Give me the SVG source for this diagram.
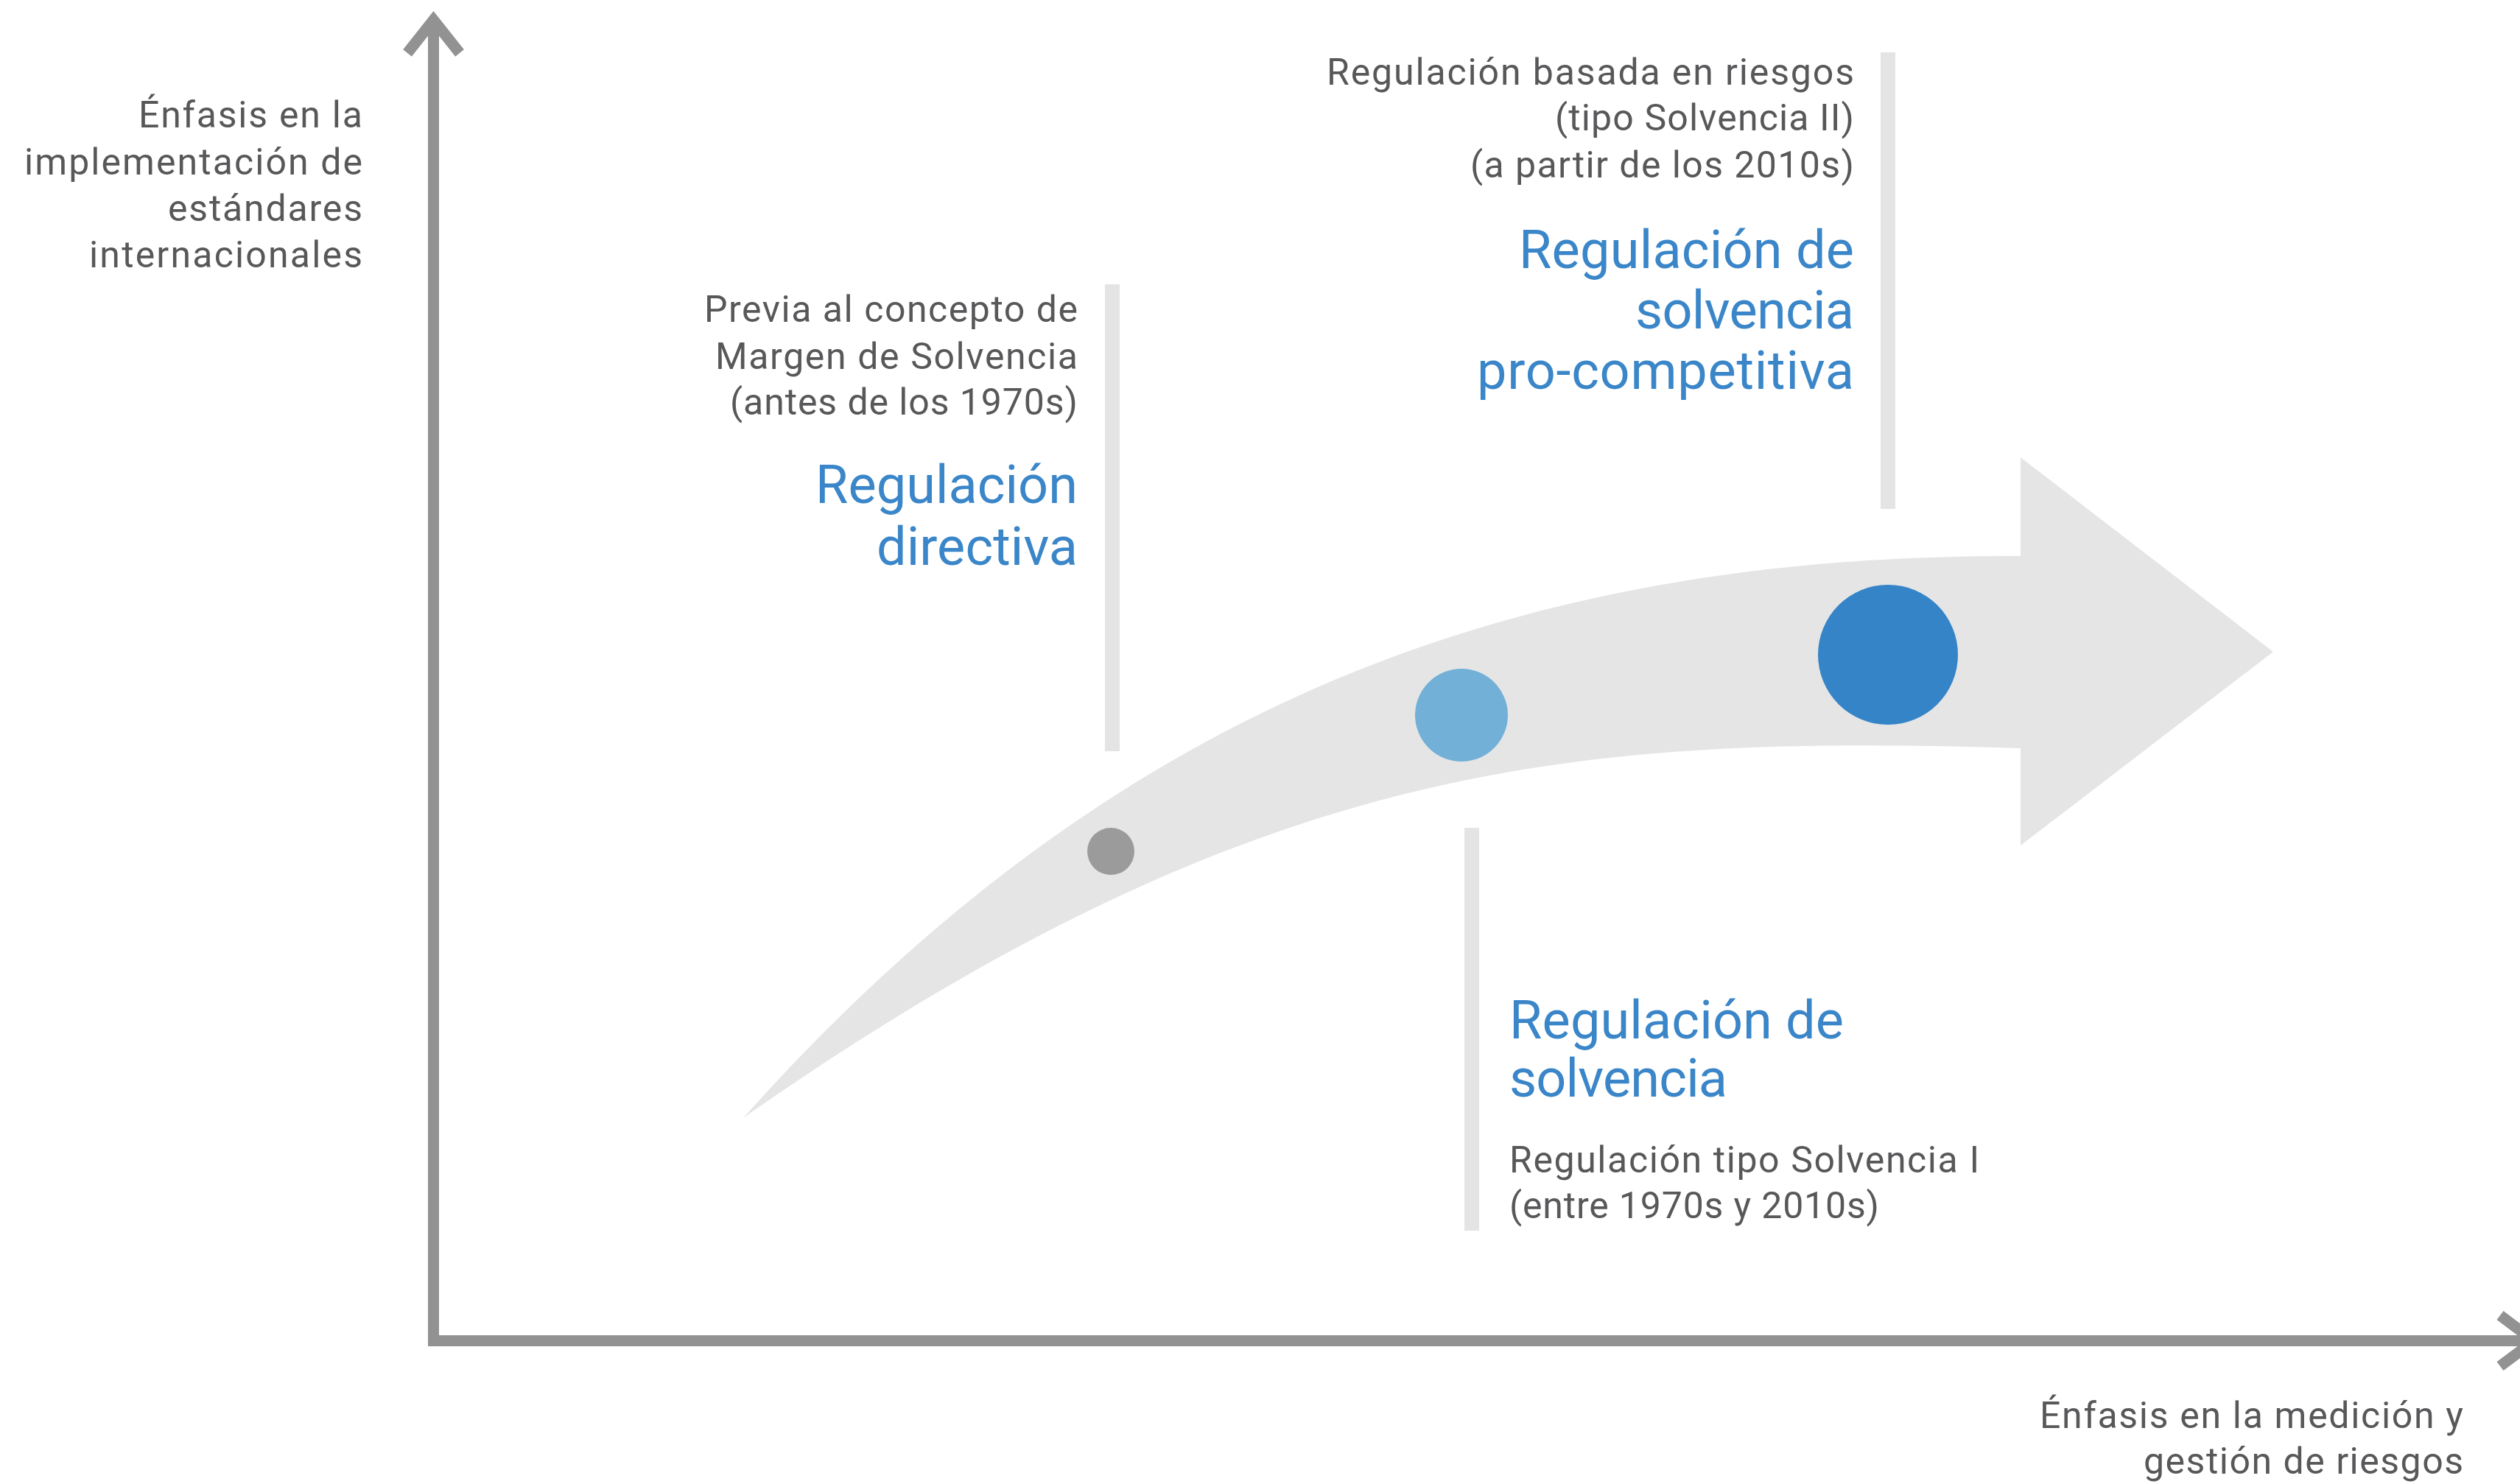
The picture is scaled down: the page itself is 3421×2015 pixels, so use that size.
<svg xmlns="http://www.w3.org/2000/svg" width="3421" height="2015" viewBox="0 0 3421 2015">
  <style>
    .g { font-family: Roboto, "Liberation Sans", Arial, sans-serif; font-size: 50px; fill: #58585a; }
    .b { font-family: Roboto, "Liberation Sans", Arial, sans-serif; font-size: 72px; fill: #3a86c8; }
    .bar { fill: #e4e4e4; }
    .axis { fill: none; stroke: #929292; stroke-width: 15; stroke-linejoin: miter; stroke-linecap: butt; }
  </style>
  <rect width="3421" height="2015" fill="#ffffff"/>

  <g id="trend-arrow">
    <path d="M 1009 1518 C 1500 968 2044 752 2743 755 L 2743 621 L 3086 885 L 2743 1148 L 2743 1016 C 2143 998 1709 1028 1009 1518 Z" fill="#e5e5e5"/>
  </g>

  <g id="connectors">
    <path class="axis" d="M 588.5 27 L 588.5 1820.5 L 3440 1820.5"/>
    <polyline class="axis" points="553,72 588.5,27 624,72"/>
    <polyline class="axis" points="3394,1786 3440,1820.5 3394,1855"/>
  </g>

  <g id="y-axis-label">
    <text class="g" x="188" y="173" textLength="304">Énfasis en la</text>
    <text class="g" x="33" y="237" textLength="459">implementación de</text>
    <text class="g" x="228" y="300" textLength="264">estándares</text>
    <text class="g" x="121" y="363" textLength="371">internacionales</text>
  </g>

  <g id="x-axis-label">
    <text class="g" x="2769" y="1939" textLength="575">Énfasis en la medición y</text>
    <text class="g" x="2910" y="2001" textLength="434">gestión de riesgos</text>
  </g>

  <g id="stage-directiva">
    <rect class="bar" x="1500" y="386" width="20" height="634"/>
    <circle cx="1508" cy="1156" r="32" fill="#9b9b9b"/>
    <text class="g" x="956" y="437" textLength="507">Previa al concepto de</text>
    <text class="g" x="971" y="501" textLength="492">Margen de Solvencia</text>
    <text class="g" x="991" y="563" textLength="472">(antes de los 1970s)</text>
    <text class="b" x="1107" y="683" textLength="356">Regulación</text>
    <text class="b" x="1190" y="767" textLength="273">directiva</text>
  </g>

  <g id="stage-solvencia">
    <rect class="bar" x="1988" y="1124" width="20" height="547"/>
    <circle cx="1984" cy="971" r="63" fill="#72b0d8"/>
    <text class="b" x="2049" y="1410" textLength="454">Regulación de</text>
    <text class="b" x="2049" y="1489" textLength="296">solvencia</text>
    <text class="g" x="2049" y="1592" textLength="638">Regulación tipo Solvencia I</text>
    <text class="g" x="2049" y="1654" textLength="502">(entre 1970s y 2010s)</text>
  </g>

  <g id="stage-pro-competitiva">
    <rect class="bar" x="2553" y="71" width="20" height="620"/>
    <circle cx="2563" cy="889" r="95" fill="#3584c8"/>
    <text class="g" x="1801" y="115" textLength="716">Regulación basada en riesgos</text>
    <text class="g" x="2111" y="177" textLength="406">(tipo Solvencia II)</text>
    <text class="g" x="1996" y="241" textLength="521">(a partir de los 2010s)</text>
    <text class="b" x="2062" y="364" textLength="455">Regulación de</text>
    <text class="b" x="2220" y="446" textLength="297">solvencia</text>
    <text class="b" x="2005" y="528" textLength="512">pro-competitiva</text>
  </g>
</svg>
